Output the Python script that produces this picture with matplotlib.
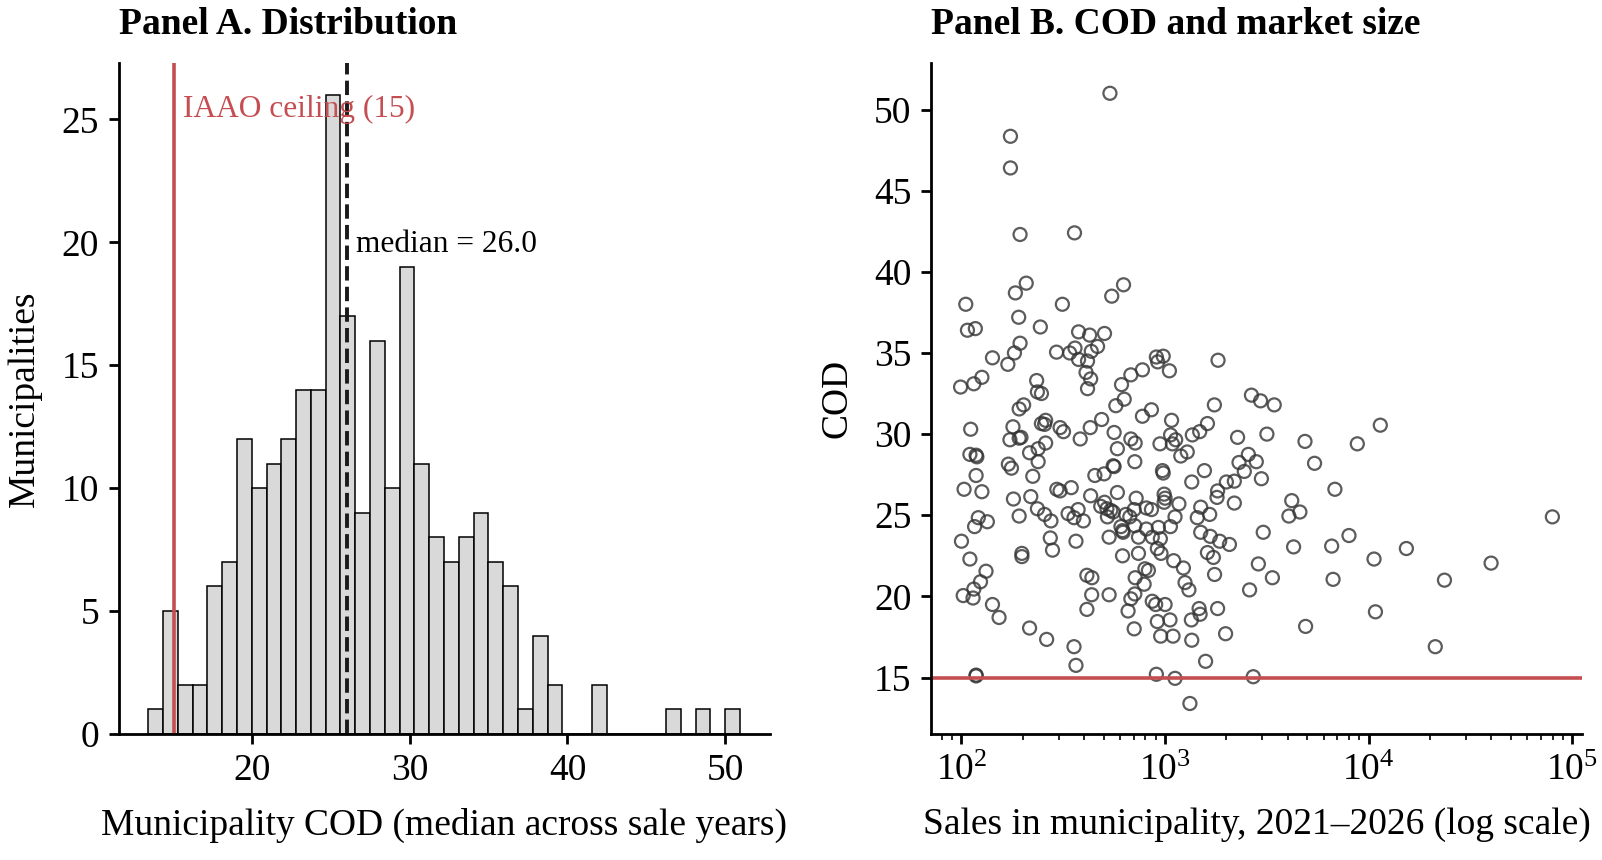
import numpy as np
import matplotlib
matplotlib.use("Agg")
import matplotlib.pyplot as plt

plt.rcParams["font.family"] = ["Liberation Serif", "DejaVu Serif"]
plt.rcParams["mathtext.fontset"] = "stix"

RED = "#C44E52"
IAAO_CEILING = 15
MEDIAN_COD = 26.0

# Panel A: municipality COD histogram (40 bins between min and max COD)
cod_min, cod_max = 13.38, 50.95
hist_counts = [1, 5, 2, 2, 6, 7, 12, 10, 11, 12,
               14, 14, 26, 17, 9, 16, 10, 19, 11, 8,
               7, 8, 9, 7, 6, 1, 4, 2, 0, 0,
               2, 0, 0, 0, 0, 1, 0, 1, 0, 1]

# Panel B: sales count and COD per municipality
sales = [536, 174, 174, 194, 359, 208, 184, 105, 313, 625,
         547, 191, 107, 117, 244, 376, 426, 504, 194, 182,
         142, 169, 293, 340, 361, 376, 434, 466, 416, 409,
         431, 126, 115, 99, 234, 611, 679, 774,
         236, 247, 416, 630, 573, 202, 192, 111, 179, 173,
         192, 196, 247, 259, 256, 305, 317, 429, 488, 562,
         774, 383, 583, 679, 713, 710, 556, 562, 502, 452,
         110, 118, 119, 216, 238, 259, 238, 170, 176, 118,
         224, 103, 126, 180, 219, 294, 305, 346, 431, 583,
         721, 504, 483, 518, 541, 556, 521, 641, 671, 705,
         236, 256, 275, 192, 334, 374, 357, 397, 121, 134,
         116, 607, 622, 618, 710, 740, 531, 100, 365, 273,
         280, 198, 198, 110, 618, 740, 132, 124, 115, 102,
         114, 413, 437, 436, 531, 713, 710, 679, 658, 413,
         142, 153, 216, 262, 357, 365, 705, 118, 118,
         906, 979, 920, 1050, 1820,
         857, 1076, 1746, 2655, 2944, 3436, 1064, 1127, 1086, 944,
         1361, 1479, 1614, 2270, 3162, 4864, 8790, 1194, 1285, 2564,
         2307, 2805, 2449, 2972, 5420, 971, 979, 1560, 1352, 2000,
         2188, 1811, 1799, 6823, 989, 1000, 989, 1169, 809, 857,
         1496, 1439, 1656, 2188, 4188, 4055, 4592, 1119, 1062, 927,
         809, 865, 948, 1496, 1667, 1854, 2070, 3034, 4276, 6577,
         8000, 916, 955, 1102, 1230, 1614, 1726, 796, 828, 789,
         1253, 1309, 1750, 2871, 3365, 6683, 2600, 865, 899, 1000,
         916, 1057, 951, 1094, 1346, 1469, 1486, 1811, 1352, 1982,
         4898, 1581, 906, 1119, 2710, 1324,
         11400, 79800, 10620, 15310, 39900, 23550, 10790, 21230]
cod = [51.0, 48.35, 46.4, 42.3, 42.4, 39.3, 38.7, 38.0, 38.0, 39.2,
       38.5, 37.2, 36.4, 36.5, 36.6, 36.3, 36.1, 36.2, 35.6, 35.0,
       34.7, 34.3, 35.05, 35.0, 35.3, 34.6, 35.1, 35.4, 34.5, 33.8,
       33.4, 33.5, 33.1, 32.9, 33.3, 33.05, 33.65, 33.96,
       32.6, 32.5, 32.8, 32.15, 31.75, 31.8, 31.55, 30.3, 30.45, 29.65,
       29.75, 29.8, 30.65, 30.85, 30.6, 30.4, 30.15, 30.4, 30.9, 30.1,
       31.1, 29.7, 29.1, 29.7, 29.45, 28.3, 28.05, 28.0, 27.55, 27.45,
       28.75, 28.7, 28.6, 28.85, 29.1, 29.45, 28.3, 28.15, 27.9, 27.45,
       27.4, 26.6, 26.45, 26.0, 26.15, 26.6, 26.5, 26.7, 26.2, 26.4,
       26.05, 25.8, 25.55, 25.4, 25.3, 25.2, 24.9, 25.05, 24.9, 25.35,
       25.4, 25.05, 24.65, 24.95, 25.1, 25.35, 24.85, 24.65, 24.85, 24.6,
       24.3, 24.3, 23.95, 24.05, 24.35, 23.65, 23.65, 23.4, 23.4, 23.6,
       22.85, 22.65, 22.45, 22.3, 22.5, 22.65, 21.55, 20.9, 20.45, 20.05,
       19.9, 21.3, 21.15, 20.1, 20.1, 21.15, 20.15, 19.85, 19.1, 19.2,
       19.5, 18.7, 18.05, 17.35, 16.9, 15.75, 18.0, 15.15, 15.1,
       34.75, 34.8, 34.45, 33.9, 34.55,
       31.5, 30.85, 31.8, 32.4, 32.05, 31.8, 29.95, 29.65, 29.4, 29.4,
       29.95, 30.15, 30.65, 29.8, 30.0, 29.55, 29.4, 28.65, 28.9, 28.75,
       28.25, 28.3, 27.7, 27.25, 28.2, 27.75, 27.6, 27.75, 27.05, 27.05,
       27.1, 26.5, 26.1, 26.6, 26.3, 26.05, 25.8, 25.7, 25.45, 25.35,
       25.5, 24.85, 25.05, 25.75, 25.9, 24.95, 25.2, 24.9, 24.3, 24.25,
       24.15, 23.65, 23.55, 23.95, 23.7, 23.4, 23.2, 23.95, 23.05, 23.1,
       23.75, 22.95, 22.65, 22.2, 21.75, 22.7, 22.4, 21.7, 21.6, 20.75,
       20.85, 20.4, 21.35, 22.0, 21.15, 21.05, 20.4, 19.7, 19.5, 19.5,
       18.45, 18.55, 17.55, 17.55, 18.55, 19.25, 18.9, 19.25, 17.3, 17.7,
       18.15, 16.0, 15.2, 14.95, 15.05, 13.4,
       30.55, 24.9, 22.3, 22.95, 22.05, 21.0, 19.05, 16.9]

fig, (ax1, ax2) = plt.subplots(1, 2, figsize=(8.01, 4.3), dpi=200)
fig.subplots_adjust(left=0.074, right=0.9875, bottom=0.1465, top=0.927, wspace=0.248)

edges = np.linspace(cod_min, cod_max, len(hist_counts) + 1)
centers = (edges[:-1] + edges[1:]) / 2
ax1.hist(centers, bins=edges, weights=hist_counts, color="#d9d9d9",
         edgecolor="black", linewidth=0.55)
ax1.axvline(IAAO_CEILING, color=RED, linewidth=1.3)
ax1.axvline(MEDIAN_COD, color="#1a1a1a", linestyle="--", linewidth=1.4)
ax1.text(IAAO_CEILING + 0.6, 25.4, f"IAAO ceiling ({IAAO_CEILING})", color=RED,
         fontsize=11.3, va="center", ha="left")
ax1.text(MEDIAN_COD + 0.6, 19.9, f"median = {MEDIAN_COD:.1f}", color="black",
         fontsize=11.3, va="center", ha="left")
ax1.set_xlabel("Municipality COD (median across sale years)", fontsize=13.5, labelpad=7)
ax1.set_ylabel("Municipalities", fontsize=13.5, labelpad=7)
ax1.set_title("Panel A. Distribution", loc="left", fontsize=13.5, fontweight="bold", pad=10.5)
ax1.set_xticks([20, 30, 40, 50])
ax1.set_yticks([0, 5, 10, 15, 20, 25])

ax2.scatter(sales, cod, s=22, facecolors="none", edgecolors="#333333",
            linewidths=0.8, alpha=0.8)
ax2.axhline(IAAO_CEILING, color=RED, linewidth=1.3)
ax2.set_xscale("log")
ax2.set_xlabel("Sales in municipality, 2021\u20132026 (log scale)", fontsize=13.5, labelpad=7)
ax2.set_ylabel("COD", fontsize=13.5, labelpad=7)
ax2.set_title("Panel B. COD and market size", loc="left", fontsize=13.5, fontweight="bold", pad=10.5)
ax2.set_yticks([15, 20, 25, 30, 35, 40, 45, 50])

for ax in (ax1, ax2):
    for side in ("top", "right"):
        ax.spines[side].set_visible(False)
    for side in ("left", "bottom"):
        ax.spines[side].set_linewidth(1.0)
    ax.tick_params(axis="both", which="major", labelsize=13.5, width=1.0)

plt.savefig("out.png", dpi=200)
plt.close(fig)
